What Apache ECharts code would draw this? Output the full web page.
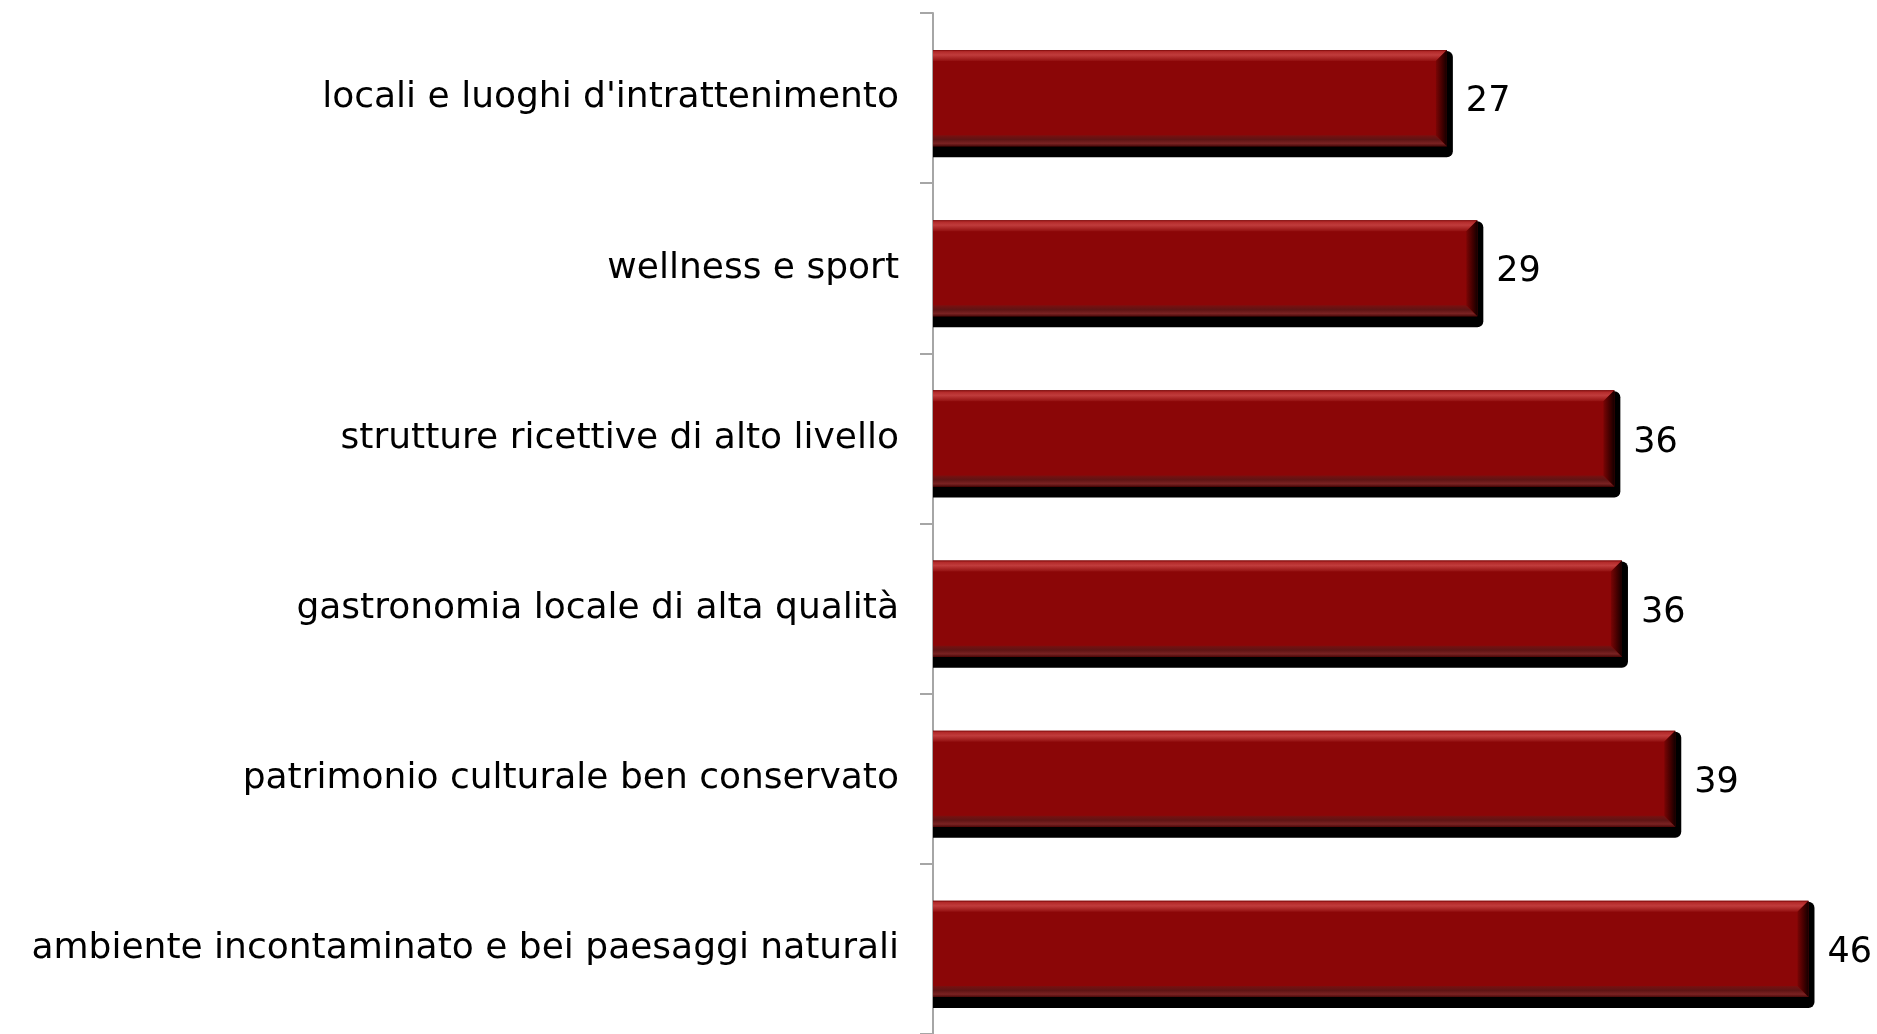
<!DOCTYPE html>
<html>
<head>
<meta charset="utf-8">
<title>chart</title>
<script src="https://cdn.jsdelivr.net/npm/echarts@6/dist/echarts.min.js"></script>
<style>
  html, body { margin: 0; padding: 0; background: #ffffff; }
  #main { width: 1877px; height: 1034px; }
</style>
</head>
<body>
<div id="main"></div>
<script>
// categories from top to bottom
var categories = [
  "locali e luoghi d'intrattenimento",
  "wellness e sport",
  "strutture ricettive di alto livello",
  "gastronomia locale di alta qualità",
  "patrimonio culturale ben conservato",
  "ambiente incontaminato e bei paesaggi naturali"
];
// values (labels show them rounded)
var values = [27.0, 28.6, 35.8, 36.2, 39.0, 46.0];

var chart = echarts.init(document.getElementById("main"));

//draws one bevelled bar: black slab behind, red face, lit top edge, dark bottom and right edges
function renderBevelBar(params, api) {
  var v = api.value(0);
  var cat = api.value(1);
  var start = api.coord([0, cat]);
  var end = api.coord([v, cat]);
  var h = api.size([0, 1])[1] * 0.565;
  var x0 = start[0], x1 = end[0];
  var y0 = start[1] - h / 2, y1 = start[1] + h / 2;
  var b = 11; // bevel width

  return {
    type: "group",
    children: [
      {
        type: "rect",
        shape: { x: x0, y: y0 + 1, width: x1 - x0 + 6, height: h + 10, r: [0, 6, 6, 0] },
        style: { fill: "#000000" }
      },
      {
        type: "rect",
        shape: { x: x0, y: y0, width: x1 - x0, height: h },
        style: { fill: "#8b0607" }
      },
      {
        // top bevel
        type: "polygon",
        shape: { points: [[x0, y0], [x1, y0], [x1 - b, y0 + b], [x0, y0 + b]] },
        style: {
          fill: new echarts.graphic.LinearGradient(0, 0, 0, 1, [
            { offset: 0, color: "#7a0808" },
            { offset: 0.15, color: "#b32a2a" },
            { offset: 0.45, color: "#c03c3c" },
            { offset: 1, color: "#931010" }
          ])
        }
      },
      {
        // bottom bevel
        type: "polygon",
        shape: { points: [[x0, y1], [x1, y1], [x1 - b, y1 - b], [x0, y1 - b]] },
        style: {
          fill: new echarts.graphic.LinearGradient(0, 0, 0, 1, [
            { offset: 0, color: "#7a1010" },
            { offset: 0.4, color: "#5e1414" },
            { offset: 0.75, color: "#7a2222" },
            { offset: 1, color: "#4a0a0a" }
          ])
        }
      },
      {
        // right bevel
        type: "polygon",
        shape: { points: [[x1, y0], [x1, y1], [x1 - b, y1 - b], [x1 - b, y0 + b]] },
        style: {
          fill: new echarts.graphic.LinearGradient(0, 0, 1, 0, [
            { offset: 0, color: "#7a0505" },
            { offset: 0.6, color: "#400000" },
            { offset: 1, color: "#150000" }
          ])
        }
      },
      {
        type: "text",
        x: x1 + 19,
        y: start[1] + 4,
        style: {
          text: String(Math.round(v)),
          fill: "#000000",
          font: "35px 'DejaVu Sans'",
          verticalAlign: "middle",
          align: "left"
        }
      }
    ]
  };
}

var barData = [];
for (var i = 0; i < values.length; i++) {
  barData.push([values[i], i]);
}

var option = {
  animation: false,
  backgroundColor: "#ffffff",
  grid: {
    left: 933,
    right: 0,
    top: 13,
    height: 1024
  },
  xAxis: {
    type: "value",
    min: 0,
    max: 49.6,
    show: false
  },
  yAxis: {
    type: "category",
    inverse: true,
    data: categories,
    axisLine: {
      show: true,
      lineStyle: { color: "#a6a6a6", width: 2 }
    },
    axisTick: {
      show: true,
      length: 13,
      lineStyle: { color: "#a6a6a6", width: 2 }
    },
    axisLabel: {
      margin: 34,
      color: "#000000",
      fontFamily: "DejaVu Sans",
      fontSize: 36,
      padding: [6, 0, 0, 0]
    }
  },
  series: [{
    name: "valori",
    type: "custom",
    renderItem: renderBevelBar,
    encode: { x: 0, y: 1 },
    data: barData,
    z: 1
  }]
};

chart.setOption(option);
window.addEventListener("resize", function () {
  chart.resize();
});
</script>
</body>
</html>
